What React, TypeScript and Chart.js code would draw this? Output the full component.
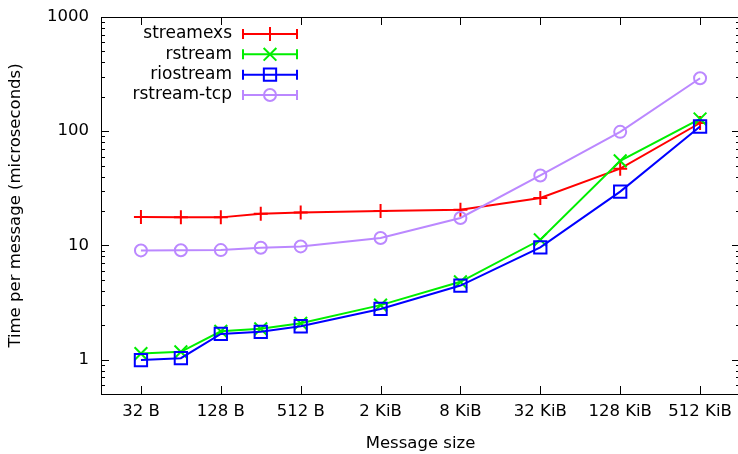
import React, { useEffect, useRef } from "react";
import { Chart, registerables } from "chart.js";
Chart.register(...registerables);

// Message sizes (bytes) at which measurements were taken
const sizeBytes = [32, 64, 128, 256, 512, 2048, 8192, 32768, 131072, 524288];
// Time per message (microseconds)
const streamexs = [17.7, 17.6, 17.6, 18.9, 19.4, 20.0, 20.5, 26, 47, 118];
const rstream = [1.13, 1.17, 1.77, 1.86, 2.08, 3.0, 4.8, 11.2, 55, 128];
const riostream = [0.99, 1.03, 1.68, 1.75, 1.96, 2.78, 4.45, 9.6, 29.6, 110];
const rstreamTcp = [9.04, 9.06, 9.1, 9.55, 9.8, 11.6, 17.4, 41, 98.7, 291];

const seriesNames = ["streamexs", "rstream", "riostream", "rstream-tcp"];
const seriesColors = ["#ff0000", "#00ee00", "#0000ff", "#bb88ff"];
const seriesStyles = ["cross", "crossRot", "rect", "circle"];
const seriesRadius = [7, 9, 8.7, 6];

const xTickBytes = [32, 128, 512, 2048, 8192, 32768, 131072, 524288];
const xTickLabels = ["32 B", "128 B", "512 B", "2 KiB", "8 KiB", "32 KiB", "128 KiB", "512 KiB"];
const yTickValues = [1, 10, 100, 1000];

const FONT = "DejaVu Sans";
const FSIZE = 16.5;
const KEY_FSIZE = 17;

function drawMarker(ctx: CanvasRenderingContext2D, style: string, x: number, y: number, r: number) {
  ctx.beginPath();
  if (style === "cross") {
    ctx.moveTo(x - r, y); ctx.lineTo(x + r, y);
    ctx.moveTo(x, y - r); ctx.lineTo(x, y + r);
  } else if (style === "crossRot") {
    const d = r * Math.SQRT1_2;
    ctx.moveTo(x - d, y - d); ctx.lineTo(x + d, y + d);
    ctx.moveTo(x + d, y - d); ctx.lineTo(x - d, y + d);
  } else if (style === "rect") {
    const d = r * Math.SQRT1_2;
    ctx.rect(x - d, y - d, 2 * d, 2 * d);
  } else {
    ctx.arc(x, y, r, 0, Math.PI * 2);
  }
  ctx.stroke();
}

const framePlugin = {
  id: "frame",
  afterDraw(chart: any) {
    const { ctx, chartArea: a, scales } = chart;
    const xs = scales.x, ys = scales.y;
    ctx.save();
    ctx.strokeStyle = "#000";
    ctx.lineWidth = 1;
    ctx.strokeRect(Math.round(a.left) + 0.5, Math.round(a.top) + 0.5, Math.round(a.right - a.left), Math.round(a.bottom - a.top));
    ctx.beginPath();
    for (const b of xTickBytes) {
      const px = Math.round(xs.getPixelForValue(Math.log2(b))) + 0.5;
      ctx.moveTo(px, a.bottom); ctx.lineTo(px, a.bottom - 8);
      ctx.moveTo(px, a.top); ctx.lineTo(px, a.top + 8);
    }
    for (let k = -1; k <= 3; k++) {
      for (let m = 1; m <= 9; m++) {
        const v = m * Math.pow(10, k);
        if (v < 0.5 || v > 1000) continue;
        const py = Math.round(ys.getPixelForValue(v)) + 0.5;
        const len = m === 1 ? 8 : 4;
        ctx.moveTo(a.left, py); ctx.lineTo(a.left + len, py);
        ctx.moveTo(a.right, py); ctx.lineTo(a.right - len, py);
      }
    }
    ctx.stroke();

    // key
    const rowY = [34, 54.3, 74.7, 95];
    ctx.font = `${KEY_FSIZE}px "${FONT}"`;
    ctx.textAlign = "right";
    ctx.textBaseline = "middle";
    chart.data.datasets.forEach((ds: any, i: number) => {
      const y = rowY[i];
      ctx.fillStyle = "#000";
      ctx.fillText(seriesNames[i], 232, y);
      ctx.strokeStyle = seriesColors[i];
      ctx.lineWidth = 2;
      ctx.beginPath();
      ctx.moveTo(243, y); ctx.lineTo(297, y);
      ctx.moveTo(243, y - 5); ctx.lineTo(243, y + 5);
      ctx.moveTo(297, y - 5); ctx.lineTo(297, y + 5);
      ctx.stroke();
      drawMarker(ctx, seriesStyles[i], 270, y, seriesRadius[i]);
    });
    ctx.restore();
  },
};

export default function App() {
  const ref = useRef<HTMLCanvasElement>(null);
  useEffect(() => {
    if (!ref.current) return;
    const all = [streamexs, rstream, riostream, rstreamTcp];
    const datasets = all.map((vals, i) => ({
      label: seriesNames[i],
      data: vals.map((v, j) => ({ x: Math.log2(sizeBytes[j]), y: v })),
      borderColor: seriesColors[i],
      backgroundColor: "transparent",
      borderWidth: 2,
      pointStyle: seriesStyles[i] as any,
      pointRadius: seriesRadius[i],
      pointBorderWidth: 2,
      pointBorderColor: seriesColors[i],
      pointBackgroundColor: "transparent",
      tension: 0,
      order: 3 - i,
      clip: false as any,
    }));
    const chart = new Chart(ref.current, {
      type: "line",
      data: { datasets },
      options: {
        animation: false,
        responsive: false,
        maintainAspectRatio: false,
        layout: { autoPadding: false, padding: { top: 17, left: 0, right: 0, bottom: 0 } },
        plugins: { legend: { display: false }, tooltip: { enabled: false } },
        scales: {
          x: {
            type: "linear",
            min: 4,
            max: 20,
            grid: { display: false, drawTicks: false },
            border: { display: false },
            afterBuildTicks: (s: any) => {
              s.ticks = xTickBytes.map((b) => ({ value: Math.log2(b) }));
            },
            afterFit: (s: any) => { s.height = 60; s.paddingLeft = 0; s.paddingRight = 0; },
            ticks: {
              padding: 8,
              autoSkip: false,
              maxRotation: 0,
              color: "#000",
              font: { family: FONT, size: FSIZE },
              callback: (v: any) => {
                const idx = xTickBytes.findIndex((b) => Math.abs(Math.log2(b) - v) < 1e-6);
                return idx >= 0 ? xTickLabels[idx] : "";
              },
            },
            title: {
              display: true,
              text: "Message size",
              color: "#000",
              font: { family: FONT, size: FSIZE },
              padding: { top: 0, bottom: 0 },
            },
          },
          y: {
            type: "logarithmic",
            min: 0.5,
            max: 1000,
            grid: { display: false, drawTicks: false },
            border: { display: false },
            afterBuildTicks: (s: any) => {
              s.ticks = yTickValues.map((v) => ({ value: v }));
            },
            afterFit: (s: any) => { s.width = 101; s.paddingTop = 0; s.paddingBottom = 0; },
            ticks: {
              padding: 12,
              autoSkip: false,
              color: "#000",
              font: { family: FONT, size: FSIZE },
              callback: (v: any) => String(v),
            },
            title: {
              display: true,
              text: "Time per message (microseconds)",
              color: "#000",
              font: { family: FONT, size: FSIZE },
              padding: { top: 6, bottom: 0 },
            },
          },
        },
      },
      plugins: [framePlugin],
    });
    return () => chart.destroy();
  }, []);
  return (
    <div style={{ position: "fixed", left: 0, top: 0, width: 738, height: 454, overflow: "hidden", background: "#fff" }}>
      <canvas ref={ref} width={740} height={454} style={{ display: "block", width: 740, height: 454 }} />
    </div>
  );
}
